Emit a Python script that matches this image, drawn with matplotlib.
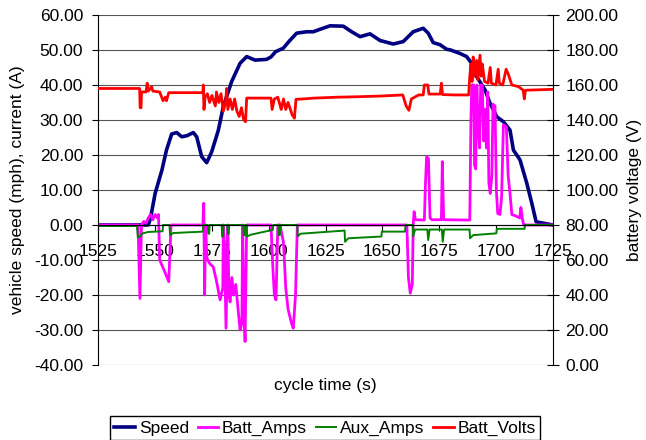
import matplotlib.pyplot as plt
from matplotlib.ticker import FormatStrFormatter

plt.rcParams['font.family'] = ['Liberation Sans', 'DejaVu Sans']
plt.rcParams['font.size'] = 12.5

# cycle time (s) / vehicle speed (mph)
speed_t = [1525, 1547, 1548, 1550, 1553, 1555, 1557.3, 1559.5, 1561.7, 1564,
           1566.8, 1568.3, 1570.5, 1572.7, 1574.9, 1577.8, 1580, 1583.7, 1587.4, 1590.3,
           1594, 1599, 1601, 1603, 1606.4, 1609, 1612.3, 1616.7, 1619.6, 1623,
           1627, 1632.8, 1636.5, 1640.2, 1644.6, 1649, 1654.8, 1659.2, 1663.6, 1668,
           1670.2, 1672.4, 1675.4, 1678.3, 1680, 1684.2, 1687.1, 1689.3, 1691.5, 1695.2,
           1697.4, 1700.4, 1703.3, 1706.2, 1707.7, 1710.6, 1713.6, 1715.8, 1717.7, 1725]
speed_v = [0, 0, 2, 9, 15.7, 21.4, 26, 26.4, 25.2, 25.5,
           26.4, 25.2, 19.5, 17.8, 20.9, 27, 33.8, 41, 46.2, 48.1,
           47.1, 47.3, 48, 49.5, 50.5, 52.5, 54.8, 55.2, 55.2, 56,
           56.9, 56.8, 55.2, 53.8, 54.6, 52.7, 51.7, 52.4, 55.2, 56.2,
           54.8, 52.1, 51.5, 50.2, 50, 49, 48.1, 46.2, 42.4, 38.6,
           34.8, 30.9, 29.5, 27.1, 21.4, 18.6, 11.9, 6.2, 0.9, 0]

# battery current (A)
amps_t = [1525, 1542.5, 1543.3, 1544, 1545, 1546, 1547, 1548, 1549, 1550,
          1551, 1551.5, 1552, 1554, 1556, 1557, 1571, 1571.4, 1571.8, 1572.2,
          1572.8, 1574, 1575.6, 1577, 1578.6, 1579.8, 1580, 1580.5, 1581.2, 1582,
          1582.5, 1583, 1583.8, 1584.5, 1585.5, 1586.5, 1587.4, 1588.2, 1588.5, 1589.1,
          1589.6, 1590.3, 1601, 1601.8, 1602.5, 1603.2, 1604, 1605, 1606.5, 1607.5,
          1608.5, 1610, 1610.8, 1611.8, 1612.6, 1660.8, 1661.5, 1662.3, 1663.2, 1663.6,
          1664, 1664.5, 1668.5, 1669, 1669.5, 1670.3, 1671, 1671.8, 1676, 1676.4,
          1677, 1688.5, 1689, 1689.4, 1690.2, 1690.6, 1691.1, 1691.6, 1692.2, 1692.8,
          1693.3, 1694, 1694.6, 1695.2, 1695.8, 1696.4, 1696.9, 1697.5, 1698.2, 1698.7,
          1699.6, 1700.2, 1700.8, 1701.8, 1702.5, 1703.3, 1704.6, 1705.4, 1706.2, 1707,
          1709, 1710.5, 1711, 1711.6, 1712.2, 1725]
amps_v = [0, 0, -21, 0, 1, 0.5, 2, 3, 1.5, 3,
          2, 3, -10, -13, -16.2, 0, 0, 6.2, -20, 0,
          -9.5, -11, -12, -16, -21.4, -18, 0, -5, -29.5, 0,
          -20, -22, -15, -20, -17, -24, -30, -28, 0, -25,
          -33.3, 0, 0, -12, -20, -21.4, 0, 0, -5, -18,
          -24, -28, -29.5, -20, 0, 0, -15, -19.5, -17, 0,
          3.8, 1.5, 1.4, 12, 19.5, 19, 2, 1.5, 1.5, 18.1,
          1.5, 1.4, 30, 40, 40, 17, 16, 40, 28, 22,
          40, 40, 24, 33, 22, 38, 12, 9, 14, 34.5,
          34, 10, 3.3, 3, 8, 28.6, 28, 14, 9, 3,
          2.5, 2, 5, 2, 0, 0]

# auxiliary current (A)
aux_t = [1525, 1542.0, 1542.4, 1543.3, 1544.5, 1547.0, 1553.3, 1553.5, 1556.3, 1556.6,
         1558, 1571.0, 1571.2, 1573.2, 1573.4, 1573.8, 1574.0, 1579.3, 1579.5, 1579.9,
         1580.1, 1581.8, 1582.0, 1582.4, 1582.6, 1588.8, 1589.0, 1589.4, 1589.6, 1590.2,
         1590.4, 1592, 1601.8, 1602.0, 1604.3, 1604.5, 1604.9, 1605.1, 1612.6, 1612.8,
         1614, 1633.4, 1633.6, 1635, 1649.6, 1649.8, 1660.0, 1660.2, 1663.4, 1663.6,
         1664.4, 1669.8, 1670.2, 1670.8, 1676.2, 1676.6, 1677.2, 1688.4, 1688.6, 1690,
         1700.2, 1700.4, 1712.6, 1712.8, 1725]
aux_v = [-0.3, -0.3, -3.5, -3.3, -2.4, -2.0, -1.8, 0, 0, -2.9,
         -2.3, -1.9, 0, 0, -2.5, -2.5, 0, 0, -3.3, -3.3,
         0, 0, -2.6, -2.6, 0, 0, -2.9, -2.9, 0, 0,
         -3.3, -2.8, -1.4, 0, 0, -2.9, -2.9, 0, 0, -3.3,
         -2.5, -1.6, -4.8, -3.8, -3.3, -1.9, -1.9, 0, 0, -3.3,
         -1.3, -1.3, -4.3, -1.3, -1.3, -4.8, -1.3, -1.3, -3.8, -2.9,
         -2.4, -1.1, -1.1, 0, 0]

# battery voltage (V)
volts_t = [1525, 1543.2, 1543.4, 1543.8, 1544, 1546, 1546.5, 1547, 1548.5, 1549,
           1552, 1553.5, 1554.5, 1555, 1556, 1571, 1571.2, 1571.5, 1572, 1573,
           1574, 1575, 1576.5, 1577, 1578, 1579, 1580, 1581, 1581.5, 1582,
           1583, 1584, 1585, 1586, 1587, 1588, 1589, 1589.8, 1590.3, 1595,
           1601, 1601.5, 1602.5, 1604, 1605.5, 1606.5, 1607.5, 1608.5, 1610.3, 1611.3,
           1612, 1615, 1620, 1630, 1640, 1650, 1659, 1660.5, 1661.7, 1662.8,
           1666, 1668, 1668.5, 1670, 1670.5, 1675.5, 1676, 1676.5, 1682, 1688,
           1688.5, 1689, 1689.5, 1690, 1690.5, 1691.5, 1692, 1693, 1693.5, 1694,
           1695, 1696.5, 1697.5, 1698, 1700, 1701, 1701.5, 1703, 1704.5, 1705.5,
           1707, 1710, 1712, 1712.5, 1713, 1725]
volts_v = [158, 158, 147, 147, 156, 156, 161, 156.5, 159, 156.5,
           156, 151, 153, 151, 155.6, 155.6, 160, 146, 153, 155,
           150, 154, 148, 156, 150, 155, 145, 150, 158, 146,
           152, 146, 152, 145, 142, 147, 140, 139, 152.5, 152.5,
           152.5, 146, 152, 153, 146, 152, 146, 150, 143, 141,
           151.8, 152, 152.5, 153, 153.3, 153.7, 154.3, 148, 145.5, 152,
           154.3, 154.3, 160, 160, 154.8, 154.8, 161, 154.5, 154.3, 154.3,
           165, 172, 162, 176, 165, 174, 163, 177, 165, 172,
           162, 161, 170, 161, 160, 169, 161, 160, 169, 166,
           160, 159, 157, 152, 157, 157.5]

fig = plt.figure(figsize=(6.46, 4.40), dpi=100)
ax = fig.add_axes([0.1522, 0.1705, 0.7034, 0.7955])

ax.plot(speed_t, speed_v, color='#000080', lw=2.6, label='Speed')
ax.plot(amps_t, amps_v, color='#FF00FF', lw=2.0, label='Batt_Amps')
ax.plot(aux_t, aux_v, color='#008000', lw=1.4, label='Aux_Amps')

ax.set_xlim(1525, 1725)
ax.set_ylim(-40, 60)
ax.set_xticks(range(1525, 1726, 25))
ax.set_yticks(range(-40, 61, 10))
ax.yaxis.set_major_formatter(FormatStrFormatter('%.2f'))
ax.grid(axis='y', color='#555555', lw=0.8)
ax.spines['bottom'].set_position(('data', 0))
for s in ['top', 'right']:
    ax.spines[s].set_visible(False)
ax.tick_params(axis='x', direction='out', length=4, pad=10)
ax.tick_params(axis='y', direction='out', length=4.5, pad=6.5)

ax2 = ax.twinx()
ax2.plot(volts_t, volts_v, color='#FF0000', lw=2.0, label='Batt_Volts')
ax2.set_ylim(0, 200)
ax2.set_yticks(range(0, 201, 20))
ax2.yaxis.set_major_formatter(FormatStrFormatter('%.2f'))
for s in ['top', 'bottom', 'left']:
    ax2.spines[s].set_visible(False)
ax2.tick_params(axis='y', direction='inout', length=8, pad=5)

fig.text(18 / 646, 0.568, 'vehicle speed (mph), current (A)', rotation=90,
         ha='center', va='center')
fig.text(635 / 646, 0.568, 'battery voltage (V)', rotation=90,
         ha='center', va='center')
fig.text(0.503, 1 - 385 / 440, 'cycle time (s)', ha='center', va='center')

h1, l1 = ax.get_legend_handles_labels()
h2, l2 = ax2.get_legend_handles_labels()
leg = fig.legend(h1 + h2, l1 + l2, loc='center', bbox_to_anchor=(0.503, 0.027),
                 ncol=4, fancybox=False, edgecolor='black', framealpha=1,
                 handlelength=1.2, handletextpad=0.2, columnspacing=0.5,
                 borderpad=0.25)
leg.get_frame().set_linewidth(1)

fig.savefig('out.png', dpi=100)
